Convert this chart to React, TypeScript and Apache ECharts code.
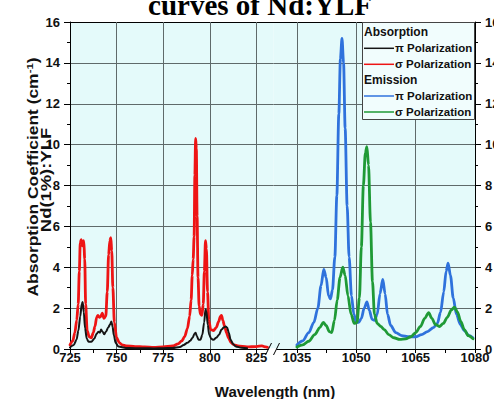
import React, { useEffect, useRef } from "react";
import * as echarts from "echarts";

// ---- data ----
const absSigmaWl = [725, 726.5, 727.6, 728.6, 729.4, 730.0, 730.5, 731.0, 731.7, 732.4, 732.9, 733.4, 734.2, 735.3, 736.5, 737.5, 738.4, 739.3, 740.0, 740.8, 741.6, 742.3, 743.2, 744.2, 745.0, 745.7, 746.4, 746.9, 747.4, 748.0, 748.8, 750.0, 751.5, 753, 755, 760, 765, 770, 775, 780, 783, 785, 786.5, 788, 789.2, 790.0, 790.6, 791.1, 791.6, 792.0, 792.4, 792.8, 793.2, 793.7, 794.3, 795.0, 795.8, 796.5, 797.1, 797.7, 798.2, 798.8, 799.5, 800.5, 802, 803.5, 804.8, 805.7, 806.3, 807, 808, 809, 810, 811.5, 813, 815, 820, 825, 828, 830, 831];
const absSigmaVal = [0.2, 0.4, 0.8, 1.4, 2.2, 3.8, 5.2, 5.35, 5.05, 5.3, 4.4, 2.2, 0.9, 0.6, 0.55, 0.8, 1.1, 1.55, 1.65, 1.55, 1.6, 1.75, 1.5, 1.6, 2.8, 4.6, 5.3, 5.45, 4.8, 3.0, 1.3, 0.55, 0.3, 0.2, 0.15, 0.12, 0.1, 0.08, 0.1, 0.15, 0.25, 0.4, 0.6, 1.0, 1.6, 2.4, 3.6, 4.4, 5.5, 8.5, 10.3, 9.8, 6.5, 3.5, 2.1, 1.7, 1.65, 2.2, 3.8, 5.3, 4.9, 2.8, 1.4, 0.95, 0.9, 1.05, 1.35, 1.6, 1.65, 1.4, 1.1, 0.8, 0.55, 0.3, 0.2, 0.15, 0.1, 0.12, 0.15, 0.1, 0.08];

const absPiWl = [725, 727, 728.5, 729.5, 730.5, 731.3, 731.8, 732.4, 733.1, 734, 735, 736.5, 738, 739.3, 740.2, 741, 741.7, 742.5, 743.3, 744.3, 745.5, 746.5, 747.2, 747.8, 748.6, 749.5, 751, 755, 760, 765, 770, 775, 780, 784, 786, 788, 789.5, 790.8, 791.8, 792.4, 793.0, 794.0, 795.0, 796.0, 797.0, 797.7, 798.2, 798.9, 799.7, 800.8, 802, 803.5, 805, 806.3, 807.5, 808.5, 809.3, 810.2, 811.2, 812.5, 814, 817, 820];
const absPiVal = [0.08, 0.2, 0.45, 0.9, 1.6, 2.2, 2.3, 1.8, 1.0, 0.5, 0.35, 0.35, 0.5, 0.75, 0.85, 0.8, 0.95, 0.85, 0.72, 0.85, 1.05, 1.2, 1.35, 1.1, 0.65, 0.3, 0.12, 0.05, 0.04, 0.04, 0.03, 0.04, 0.05, 0.1, 0.2, 0.3, 0.4, 0.55, 0.75, 0.8, 0.65, 0.45, 0.45, 0.7, 1.3, 1.95, 1.85, 1.2, 0.7, 0.5, 0.45, 0.55, 0.7, 0.95, 1.05, 1.1, 1.05, 0.8, 0.45, 0.25, 0.12, 0.06, 0.04];

const emPiWl = [1035, 1036.5, 1038, 1039.3, 1040.3, 1041.1, 1041.8, 1042.4, 1043.0, 1043.5, 1044.0, 1044.6, 1045.1, 1045.6, 1046.0, 1046.4, 1046.8, 1047.2, 1047.7, 1048.2, 1048.8, 1049.4, 1050.0, 1050.6, 1051.3, 1052.0, 1052.7, 1053.3, 1054.0, 1054.6, 1055.3, 1056.0, 1056.7, 1057.3, 1057.9, 1058.7, 1060, 1061.5, 1063, 1065, 1066.5, 1068, 1069.5, 1070.5, 1071.3, 1072.1, 1072.7, 1073.2, 1073.8, 1074.5, 1075.3, 1076.3, 1077.3, 1078.5, 1079.5];
const emPiVal = [0.2, 0.4, 0.8, 1.3, 2.0, 3.1, 3.9, 3.5, 2.6, 2.45, 2.9, 4.5, 7.5, 11.5, 14.2, 15.2, 14.0, 10.8, 7.0, 4.5, 2.6, 1.7, 1.3, 1.3, 1.5, 2.0, 2.3, 1.9, 1.45, 1.4, 1.7, 2.7, 3.4, 2.7, 1.7, 1.15, 0.8, 0.65, 0.6, 0.6, 0.7, 0.85, 1.05, 1.25, 1.8, 2.8, 3.8, 4.2, 3.6, 2.5, 1.7, 1.2, 0.9, 0.65, 0.55];

const emSigmaWl = [1035, 1036.5, 1038, 1039.5, 1040.8, 1041.7, 1042.4, 1043.2, 1043.8, 1044.5, 1045.2, 1045.9, 1046.6, 1047.2, 1047.9, 1048.7, 1049.5, 1050.2, 1050.8, 1051.3, 1051.8, 1052.3, 1052.7, 1053.1, 1053.6, 1054.1, 1054.6, 1055.3, 1056.2, 1057.1, 1058.2, 1059.5, 1061, 1062.5, 1063.8, 1065, 1066.2, 1067.3, 1068.3, 1069.1, 1070.0, 1071.0, 1072.0, 1073.0, 1074.0, 1074.8, 1075.6, 1076.4, 1077.3, 1078.3, 1079.5];
const emSigmaVal = [0.1, 0.2, 0.38, 0.7, 1.05, 1.3, 1.15, 0.85, 0.8, 1.4, 2.4, 3.5, 4.0, 3.6, 2.6, 1.7, 1.25, 1.3, 2.5, 5.0, 8.0, 9.6, 9.9, 9.0, 6.2, 3.3, 1.7, 1.25, 1.1, 0.95, 0.7, 0.55, 0.47, 0.5, 0.6, 0.8, 1.1, 1.5, 1.78, 1.5, 1.2, 1.1, 1.25, 1.55, 1.9, 2.05, 1.8, 1.35, 0.95, 0.65, 0.5];

const leftLabels = [725, 750, 775, 800, 825];
const leftTicks = [725, 737.5, 750, 762.5, 775, 787.5, 800, 812.5, 825];
const leftGridX = [750, 775, 800, 825];
const rightLabels = [1035, 1050, 1065, 1080];
const rightTicks = [1035, 1042.5, 1050, 1057.5, 1065, 1072.5, 1080];
const rightGridX = [1035, 1050, 1065];

const legendRows = ["π Polarization", "σ Polarization", "π Polarization", "σ Polarization"];

// ---- styles ----
const SANS = "'Liberation Sans', Arial, Helvetica, sans-serif";
const SERIF = "'Liberation Serif', 'Times New Roman', serif";
const C_BLACK = "#151515";
const C_RED = "#ee1414";
const C_BLUE = "#2f72dc";
const C_GREEN = "#1f9a36";
const GRID_C = "#5f6a6a";
const BG = "#e4fafa";

const pairs = (wl: number[], v: number[]) => wl.map((w, i) => [w, v[i]]);

export default function App() {
  const ref = useRef<HTMLDivElement>(null);
  useEffect(() => {
    if (!ref.current) return;
    const chart = echarts.init(ref.current, undefined, { renderer: "svg" });
    const labelStyle = { color: "#111", fontFamily: SANS, fontWeight: "bold", fontSize: 13 };
    const xBottom = (grid: number, min: number, max: number, labels: number[], ticks: number[]) => ({
      type: "value", gridIndex: grid, position: "bottom", min, max,
      axisLine: { show: true, onZero: false, lineStyle: { color: "#000", width: 1 } },
      axisTick: { show: true, inside: false, length: 4, customValues: ticks, lineStyle: { color: "#000", width: 1 } },
      axisLabel: { show: true, customValues: labels, margin: 2, formatter: (v: number) => String(v), ...labelStyle },
      splitLine: { show: false },
      minorTick: { show: false },
    });
    const xTop = (grid: number, min: number, max: number) => ({
      type: "value", gridIndex: grid, position: "top", min, max,
      axisLine: { show: true, onZero: false, lineStyle: { color: "#000", width: 1 } },
      axisTick: { show: false }, axisLabel: { show: false }, splitLine: { show: false },
    });
    const yAx = (grid: number, pos: string) => ({
      type: "value", gridIndex: grid, position: pos, min: 0, max: 16, interval: 2,
      axisLine: { show: true, onZero: false, lineStyle: { color: "#000", width: 1 } },
      axisTick: { show: true, inside: false, length: 6, lineStyle: { color: "#000", width: 1 } },
      minorTick: { show: true, splitNumber: 2, length: 3, lineStyle: { color: "#000", width: 1 } },
      axisLabel: { show: true, margin: 10, formatter: (v: number) => String(v), ...labelStyle },
      splitLine: { show: true, lineStyle: { color: GRID_C, width: 1 } },
    });
    const vGrid = (vals: number[]) => ({
      silent: true, z: 1, symbol: ["none", "none"], label: { show: false },
      lineStyle: { color: GRID_C, width: 1, type: "solid" },
      emphasis: { disabled: true },
      data: vals.map((v) => ({ xAxis: v })),
    });
    const lineSeries = (name: string, xi: number, data: number[][], color: string, width: number, mark?: any) => ({
      type: "line", name, xAxisIndex: xi, yAxisIndex: xi, data, showSymbol: false, symbol: "none",
      smooth: 0.3, smoothMonotone: "x", silent: true, z: 2,
      lineStyle: { color, width, join: "round", cap: "round" }, itemStyle: { color },
      ...(mark ? { markLine: mark } : {}),
    });

    const legendItems: any[] = [];
    const lx = 364, ly = [48.3, 64.3, 96, 112];
    const lc = [C_BLACK, C_RED, C_BLUE, C_GREEN];
    legendRows.forEach((t, i) => {
      legendItems.push({ type: "line", z: 101, shape: { x1: lx, y1: ly[i], x2: lx + 30, y2: ly[i] }, style: { stroke: lc[i], lineWidth: 1.5 } });
      legendItems.push({ type: "text", z: 101, x: lx + 31, y: ly[i], style: { text: t, fontFamily: SANS, fontWeight: "bold", fontSize: 11.5, fill: "#111", align: "left", verticalAlign: "middle" } });
    });

    chart.setOption({
      animation: false,
      backgroundColor: "#ffffff",
      grid: [
        { left: 70, top: 22, width: 203.5, height: 327, show: true, backgroundColor: BG, borderWidth: 0, borderColor: "transparent", outerBoundsMode: "none", containLabel: false },
        { left: 273.5, top: 22, width: 201.5, height: 327, show: true, backgroundColor: BG, borderWidth: 0, borderColor: "transparent", outerBoundsMode: "none", containLabel: false },
      ],
      xAxis: [
        xBottom(0, 725, 834.2, leftLabels, leftTicks),
        xBottom(1, 1029.1, 1080, rightLabels, rightTicks),
        xTop(0, 725, 834.2),
        xTop(1, 1029.1, 1080),
      ],
      yAxis: [yAx(0, "left"), yAx(1, "right")],
      series: [
        lineSeries("Absorption σ Polarization", 0, pairs(absSigmaWl, absSigmaVal), C_RED, 2.8, vGrid(leftGridX)),
        lineSeries("Absorption π Polarization", 0, pairs(absPiWl, absPiVal), C_BLACK, 2),
        lineSeries("Emission π Polarization", 1, pairs(emPiWl, emPiVal), C_BLUE, 2.8, vGrid(rightGridX)),
        lineSeries("Emission σ Polarization", 1, pairs(emSigmaWl, emSigmaVal), C_GREEN, 2.8),
      ],
      graphic: [
        { type: "text", x: 260, y: 5, z: 100, style: { text: "curves of Nd:YLF", fontFamily: SERIF, fontWeight: "bold", fontSize: 29, fill: "#000", align: "center", verticalAlign: "middle" } },
        {
          type: "text", x: 33.5, y: 177, rotation: Math.PI / 2, scaleX: 1.2, scaleY: 1, z: 100,
          style: {
            text: "{a|Absorption Coefficient (cm}{s|-1}{a|)}", align: "center", verticalAlign: "middle", fill: "#111",
            rich: {
              a: { fontFamily: SANS, fontWeight: "bold", fontSize: 14.5, lineHeight: 17, fill: "#111" },
              s: { fontFamily: SANS, fontWeight: "bold", fontSize: 9.5, lineHeight: 10, verticalAlign: "top", fill: "#111" },
            },
          },
        },
        { type: "text", x: 46.5, y: 180, rotation: Math.PI / 2, scaleX: 1.27, scaleY: 1, z: 100, style: { text: "Nd(1%):YLF", fontFamily: SANS, fontWeight: "bold", fontSize: 14.5, fill: "#111", align: "center", verticalAlign: "middle" } },
        { type: "text", x: 275, y: 391, z: 100, style: { text: "Wavelength (nm)", fontFamily: SANS, fontWeight: "bold", fontSize: 15, fill: "#111", align: "center", verticalAlign: "middle" } },
        // axis break
        { type: "rect", z: 100, shape: { x: 268.5, y: 348.3, width: 8, height: 2.4 }, style: { fill: "#ffffff" } },
        { type: "line", z: 101, shape: { x1: 265.5, y1: 355, x2: 271.5, y2: 343 }, style: { stroke: "#000", lineWidth: 1 } },
        { type: "line", z: 101, shape: { x1: 273.5, y1: 355, x2: 279.5, y2: 343 }, style: { stroke: "#000", lineWidth: 1 } },
        // legend box
        { type: "rect", z: 100, shape: { x: 362.5, y: 22.5, width: 112, height: 97 }, style: { fill: "#f1fdfd", stroke: "#444", lineWidth: 1 } },
        { type: "text", z: 101, x: lx, y: 32.3, style: { text: "Absorption", fontFamily: SANS, fontWeight: "bold", fontSize: 12, fill: "#111", align: "left", verticalAlign: "middle" } },
        { type: "text", z: 101, x: lx, y: 80.2, style: { text: "Emission", fontFamily: SANS, fontWeight: "bold", fontSize: 12, fill: "#111", align: "left", verticalAlign: "middle" } },
        ...legendItems,
      ],
    });
    return () => chart.dispose();
  }, []);
  return <div ref={ref} style={{ position: "fixed", left: 0, top: 0, width: 494, height: 399 }} />;
}
